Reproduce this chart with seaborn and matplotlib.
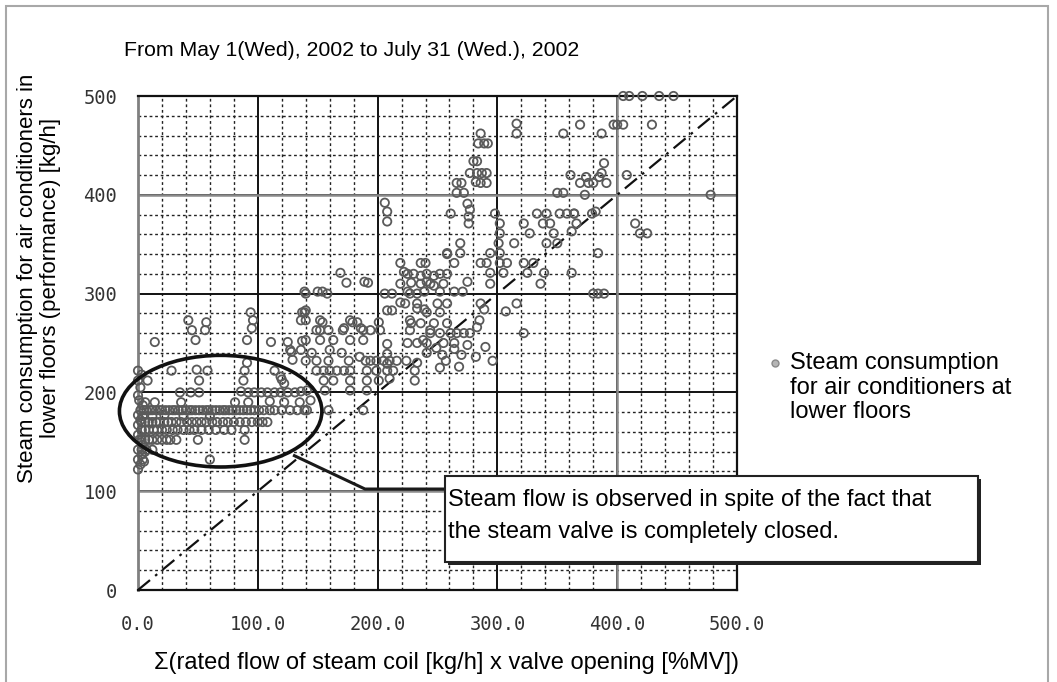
import matplotlib
matplotlib.use("Agg")
import matplotlib.pyplot as plt
import seaborn as sns
import pandas as pd
from matplotlib.patches import Ellipse, Rectangle
from matplotlib.lines import Line2D
from matplotlib.ticker import MultipleLocator

# ---------------- texts ----------------
title_text = "From May 1(Wed), 2002 to July 31 (Wed.), 2002"
x_label = "Σ(rated flow of steam coil [kg/h] x valve opening [%MV])"
y_label = "Steam consumption for air conditioners in\nlower floors (performance) [kg/h]"
legend_label = "Steam consumption\nfor air conditioners at\nlower floors"
note_lines = ["Steam flow is observed in spite of the fact that",
              "the steam valve is completely closed."]
x_ticks = [0, 100, 200, 300, 400, 500]
x_tick_labels = ["0.0", "100.0", "200.0", "300.0", "400.0", "500.0"]
y_ticks = [0, 100, 200, 300, 400, 500]
y_tick_labels = ["0", "100", "200", "300", "400", "500"]

# ---------------- data (flow, steam) ----------------
# valve almost closed, x 0-140, y 120-240
closed_col = [(0,122),(2,127),(0,132),(5,130),(3,137),(6,140),(0,142),(4,147),(1,152),(0,157),
              (3,162),(0,167),(2,172),(0,177),(4,187),(1,192),(0,197),(2,205),(0,212),(3,218),(0,222)]
closed_row222 = [(28,222),(49,223),(58,222),(89,222),(91,230),(114,222),(119,216),(122,209)]
closed_row212 = [(8,212),(51,212),(88,212),(120,213)]
closed_row200 = [(35,200),(44,200),(51,200),(86,201),(92,200),(97,200),(103,200),(108,200),
                 (114,200),(119,200),(125,200),(131,200),(136,201)]
closed_row190 = [(6,190),(14,190),(36,190),(81,190),(92,190),(110,191),(122,190),(135,190)]
closed_row182_x = [2,5,7,10,12,15,18,20,23,26,29,31,34,37,40,43,45,48,51,54,57,59,62,65,68,71,
                   73,76,79,82,85,88,91,94,97,101,105,110,114,120,127,133,139]
closed_row176 = [(4,176),(12,176),(22,177),(38,176),(60,176)]
closed_row170_x = [3,6,9,12,15,18,22,25,28,32,36,41,45,49,53,57,62,66,71,75,80,85,90,95,100,104,108]
closed_row162_x = [3,6,9,13,16,20,24,29,33,38,43,47,53,59,65,72,78,89]
closed_row152_x = [3,6,9,12,16,20,24,27,32,50,89]
closed_low = [(3,142),(7,142),(12,142),(4,132),(60,132)]
# x 0-140, y 230-290
low_upper = [(14,251),(42,273),(45,263),(48,253),(57,271),(56,263),(94,281),(96,273),(95,265),
             (91,253),(111,251),(125,251),(127,243),(129,233),(128,241),(136,273),(137,281),
             (137,252),(136,243),(139,281)]
# x 140-220
mid_left = [(169,321),(174,311),(189,312),(192,311),
            (139,302),(140,300),(150,302),(154,302),(158,300),(206,300),(212,300),
            (140,283),(140,273),(152,273),(149,263),(154,271),(159,263),(172,265),(177,273),
            (183,271),(186,265),(188,263),(179,271),(194,263),(171,263),(201,271),(202,263),
            (208,283),(212,283),(152,263),(163,253),
            (140,253),(152,253),(177,253),(188,253),(208,249),
            (208,239),(208,229),(140,232),(149,232),(159,232),(176,232),(190,232),(194,232),
            (199,232),(205,232),(210,232),(216,232),(145,240),(160,243),(170,240),(185,236),
            (149,222),(155,222),(160,222),(166,222),(172,222),(177,222),(191,222),(199,222),
            (208,222),(213,222),
            (155,212),(163,212),(177,212),(191,212),(201,212),(210,214),
            (141,202),(156,202),(177,202),(191,202),
            (144,192),(141,182),(159,182),(188,182),
            (206,392),(208,383),(208,373)]
# x 220-300, y 200-250
mid_low = [(224,232),(233,230),(231,222),(231,212),(249,245),(254,238),(257,232),(252,225),
           (264,244),(270,238),(275,248),(282,236),(268,226),(290,246),(296,232),(241,240)]
# x 220-370, y >= 250
mid_upper = [(286,462),(284,452),(289,452),(292,452),(280,434),(283,434),(277,422),(283,422),
             (287,422),(291,422),(282,413),(286,412),(291,412),(266,412),(270,412),(266,402),
             (272,402),(275,391),(277,385),(276,378),(276,371),(261,381),(298,381),
             (316,472),(316,462),(355,462),(361,420),(350,402),(355,402),
             (333,381),(341,381),(352,381),(358,381),(364,381),(322,371),(327,361),(338,371),
             (344,371),(347,361),(341,351),(350,351),(314,351),
             (302,371),(302,361),(301,351),(302,341),(294,341),(302,331),(286,331),(291,331),
             (308,331),(322,331),(330,331),(294,321),(294,310),(305,321),(325,321),(339,321),
             (336,310),(362,321),
             (269,351),(269,341),(258,341),(275,312),(236,331),(240,331),(264,331),(219,331),
             (225,320),(230,320),(236,318),(241,320),(247,318),(252,320),(258,320),(222,322),
             (228,311),(236,310),(244,310),(255,310),(219,310),(241,312),(247,308),
             (225,302),(239,302),(252,302),(264,302),(271,302),(227,300),(233,300),
             (223,290),(233,290),(239,284),(250,290),(258,290),(286,290),(289,284),(316,290),
             (307,282),(219,291),(233,285),(241,281),(252,281),
             (228,270),(236,270),(247,270),(258,270),(227,273),(227,263),(244,263),(238,253),
             (244,260),(252,260),(261,260),(266,260),(272,260),(277,260),(283,266),(285,273),
             (322,260),(258,340),
             (225,250),(233,250),(241,250),(255,250),(264,250)]
# x >= 360
high = [(405,500),(410,500),(421,500),(435,500),(447,500),(369,471),(387,462),(397,471),
        (400,471),(405,471),(429,471),(389,432),(369,412),(374,418),(376,412),(380,412),
        (385,418),(387,422),(391,412),(373,400),(408,420),(478,400),(364,381),(366,371),
        (362,363),(379,381),(382,383),(415,371),(419,361),(425,361),(384,341),(380,300),
        (384,300),(389,300)]

pts = (closed_col + closed_row222 + closed_row212 + closed_row200 + closed_row190
       + [(x, 182) for x in closed_row182_x] + closed_row176
       + [(x, 170) for x in closed_row170_x] + [(x, 162) for x in closed_row162_x]
       + [(x, 152) for x in closed_row152_x] + closed_low
       + low_upper + mid_left + mid_low + mid_upper + high)
df = pd.DataFrame(pts, columns=["flow", "steam"])

# ---------------- figure ----------------
plt.rcParams["font.family"] = ["Liberation Sans", "DejaVu Sans"]
fig = plt.figure(figsize=(10.57, 6.82), dpi=100)
ax = fig.add_axes([138/1057, 1-590/682, (737-138)/1057, (590-96)/682])

sns.scatterplot(data=df, x="flow", y="steam", ax=ax, marker="o", s=36,
                color="#5c5c5c", edgecolor="#5a5a5a", linewidth=1.3, legend=False, zorder=4)
coll = ax.collections[-1]
coll.set_facecolor("none")
coll.set_clip_on(False)

ax.set_xlim(0, 500)
ax.set_ylim(0, 500)
ax.set_xticks(x_ticks)
ax.set_yticks(y_ticks)
ax.set_xticklabels(x_tick_labels, fontfamily="DejaVu Sans Mono", fontsize=13.5, color="#333333")
ax.set_yticklabels(y_tick_labels, fontfamily="DejaVu Sans Mono", fontsize=13.5, color="#333333")
ax.xaxis.set_minor_locator(MultipleLocator(20))
ax.yaxis.set_minor_locator(MultipleLocator(20))
ax.tick_params(which="both", length=0)
ax.tick_params(axis="x", pad=18)
ax.tick_params(axis="y", pad=15)
ax.set_xlabel("")
ax.set_ylabel("")
ax.set_axisbelow(True)
ax.grid(which="major", color="#111111", lw=1.4, ls="-")
ax.grid(which="minor", color="#222222", lw=1.0, ls=(0, (2, 2)))
for v in (100, 400):
    ax.axhline(v, color="#8a8a8a", lw=1.8, zorder=1)
ax.axvline(400, color="#8a8a8a", lw=1.8, zorder=1)
for s in ax.spines.values():
    s.set_color("#111111")
    s.set_linewidth(1.6)
ax.spines["left"].set_color("#808080")
ax.spines["left"].set_linewidth(2.0)

# diagonal y = x
ax.plot([0, 500], [0, 500], color="#111111", lw=1.6, ls=(0, (7, 3, 1.2, 3)), zorder=3)

# ellipse and callout
ax.add_patch(Ellipse((69, 181), 169, 113, fill=False, lw=2.6, ec="#111111", zorder=6, clip_on=False))
ax.plot([129.4, 189.5, 256.3], [136.6, 102.2, 102.2], color="#1a1a1a", lw=2.2, zorder=6,
        solid_capstyle="butt")

# annotation box with shadow
fig.add_artist(Rectangle((448/1057, 1-565/682), 533/1057, 86/682, fc="#222222", ec="none",
                         transform=fig.transFigure, zorder=10))
fig.add_artist(Rectangle((445/1057, 1-562/682), 533/1057, 86/682, fc="white", ec="#222222",
                         lw=1.5, transform=fig.transFigure, zorder=11))
fig.text(448/1057, 1-500/682, note_lines[0], fontsize=17, va="center", ha="left", zorder=12)
fig.text(448/1057, 1-532/682, note_lines[1], fontsize=17, va="center", ha="left", zorder=12)

# legend
fig.add_artist(Line2D([775/1057], [1-363/682], marker="o", ms=5, ls="", mfc="#b5b5b5",
                      mec="#8a8a8a", mew=1, transform=fig.transFigure))
fig.text(790/1057, 1-352/682, legend_label, fontsize=17, va="top", ha="left", linespacing=1.15)

# titles / labels
fig.text(124/1057, 1-51/682, title_text, fontsize=15.3, va="center", ha="left")
fig.text(446/1057, 1-663/682, x_label, fontsize=17, va="center", ha="center")
fig.text(39/1057, 1-278/682, y_label, fontsize=16, rotation=90, va="center", ha="center",
         multialignment="center", linespacing=1.15)

# outer frame
fig.add_artist(Rectangle((6/1057, -0.1), (1048-6)/1057, 1.1-6/682, fill=False, ec="#a8a8a8",
                         lw=1.5, transform=fig.transFigure))

fig.savefig("out.png", dpi=100)
